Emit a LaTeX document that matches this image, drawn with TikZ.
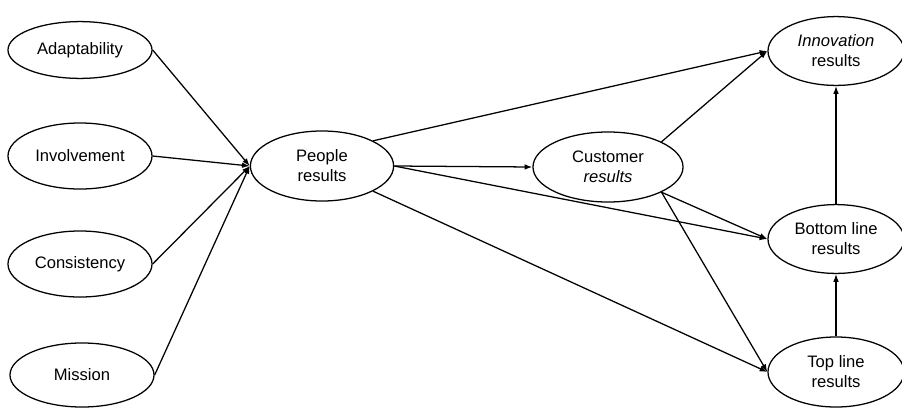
\documentclass[tikz,border=0pt]{standalone}
\usepackage{fontspec}
\setmainfont{Liberation Sans}
\usetikzlibrary{shapes.geometric, arrows.meta}

\begin{document}
\begin{tikzpicture}[x=0.025cm, y=-0.025cm,
    >={Latex[length=5.5pt,width=4pt]},
    every path/.style={line width=0.9pt},
    oval/.style={ellipse, draw, inner sep=0pt, align=center,
                 font=\fontsize{11.8}{14.2}\selectfont},
    factor/.style={oval, minimum width=3.6cm, minimum height=1.65cm},
    outcome/.style={oval, minimum width=3.4cm, minimum height=1.72cm}]
          \useasboundingbox (0,0) rectangle (902,408);
          \node [factor, minimum height=1.42cm] (Ad) at (80,50) {Adaptability};
          \node [factor] (In) at (80,156) {Involvement};
          \node [factor] (Co) at (80,264) {Consistency};
          \node [factor, minimum height=1.6cm] (Mi) at (82,375) {Mission};
          \node [oval, minimum width=3.58cm, minimum height=1.75cm] (P) at (322,166) {People\\results};
          \node [oval, minimum width=3.75cm, minimum height=1.75cm] (C) at (608,167) {Customer\\\textit{results}};
          \node [outcome] (I) at (836,51) {\textit{Innovation}\\results};
          \node [outcome] (B) at (836,239) {Bottom line\\results};
          \node [outcome, minimum height=1.75cm] (T) at (836,372) {Top line\\results};
          \draw [->] (Ad.east) -- (P.west);
          \draw [->] (In.east) -- (P.west);
          \draw [->] (Co.east) -- (P.west);
          \draw [->] (Mi.east) -- (P.west);
          \draw [->] (P.north east) -- (I.west);
          \draw [->] (P.east) -- (C.west);
          \draw [->] (P.east) -- (B.west);
          \draw [->] (P.south east) -- (T.west);
          \draw [->] (C.north east) -- (I.west);
          \draw [->] (C.south east) -- (B.west);
          \draw [->] (C.south east) -- (T.west);
          \draw [->] (B.north) -- (I.south);
          \draw [->] (T.north) -- (B.south);
        \end{tikzpicture}
\end{document}
